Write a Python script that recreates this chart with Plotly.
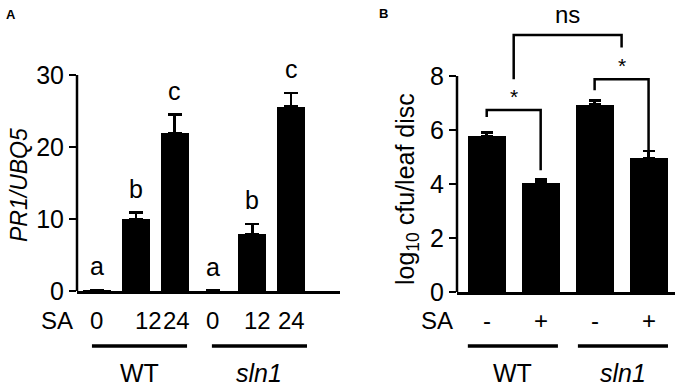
import plotly.graph_objects as go

FONT = "Liberation Sans, Arial, sans-serif"

# ---------------- data ----------------
# Panel A: PR1/UBQ5 expression
a_groups = ["WT", "<i>sln1</i>"]
a_sa_labels = ["0", "12", "24", "0", "12", "24"]
a_values = [0.1, 10.0, 21.9, 0.05, 7.9, 25.6]
a_errors = [0.05, 0.9, 2.6, 0.0, 1.4, 1.9]
a_letters = ["a", "b", "c", "a", "b", "c"]
a_yticks = [0, 10, 20, 30]

# Panel B: log10 cfu / leaf disc
b_groups = ["WT", "<i>sln1</i>"]
b_sa_labels = ["-", "+", "-", "+"]
b_values = [5.76, 4.05, 6.94, 4.95]
b_errors = [0.15, 0.11, 0.16, 0.27]
b_yticks = [0, 2, 4, 6, 8]

# ---------------- figure ----------------
W, H = 680, 387
LW = 2.5
TICKFONT = dict(family=FONT, size=24, color="black")
YTICKFONT = dict(family=FONT, size=25, color="black")

a_x = list(range(len(a_values)))
b_x = list(range(len(b_values)))

fig = go.Figure()
fig.add_trace(go.Bar(
    x=a_x, y=a_values, width=0.72, xaxis="x", yaxis="y",
    marker=dict(color="black", line=dict(width=0)),
    error_y=dict(type="data", array=a_errors, arrayminus=[0] * len(a_errors),
                 symmetric=False, color="black", thickness=LW, width=7),
    showlegend=False, hoverinfo="skip"))
fig.add_trace(go.Bar(
    x=b_x, y=b_values, width=0.705, xaxis="x2", yaxis="y2",
    marker=dict(color="black", line=dict(width=0)),
    error_y=dict(type="data", array=b_errors, arrayminus=[0] * len(b_errors),
                 symmetric=False, color="black", thickness=LW, width=6),
    showlegend=False, hoverinfo="skip"))

xcommon = dict(showline=True, linecolor="black", linewidth=LW, showticklabels=False,
               showgrid=False, zeroline=False, ticks="", fixedrange=True,
               automargin=False)
ycommon = dict(showline=False, showgrid=False, zeroline=False, ticks="outside",
               ticklen=7, tickwidth=LW, tickcolor="black", tickfont=YTICKFONT,
               fixedrange=True, automargin=False)

fig.update_layout(
    width=W, height=H, margin=dict(l=0, r=0, t=0, b=0, autoexpand=False),
    paper_bgcolor="white", plot_bgcolor="white",
    font=dict(family=FONT, color="black"),
    bargap=0,
    xaxis=dict(domain=[77 / W, 340 / W], range=[-0.515, 6.26], anchor="y", **xcommon),
    yaxis=dict(domain=[96 / H, 1], range=[0, 291 / 7.2], tickvals=a_yticks,
               anchor="x", **ycommon),
    xaxis2=dict(domain=[457 / W, 675 / W], range=[-0.551, 3.49], anchor="y2", **xcommon),
    yaxis2=dict(domain=[95 / H, 1], range=[0, 292 / 27.0], tickvals=b_yticks,
                anchor="x2", **ycommon),
)

shapes = []
ann = []

# y-axis lines (only up to top tick)
shapes.append(dict(type="line", xref="x domain", yref="y", x0=0, x1=0,
                   y0=0, y1=max(a_yticks), line=dict(color="black", width=LW)))
shapes.append(dict(type="line", xref="x2 domain", yref="y2", x0=0, x1=0,
                   y0=0, y1=max(b_yticks), line=dict(color="black", width=LW)))

# significance letters, panel A
for i, (v, e, l) in enumerate(zip(a_values, a_errors, a_letters)):
    ann.append(dict(x=i, y=v + e + 3.3, xref="x", yref="y", text=l,
                    showarrow=False, xanchor="center", yanchor="middle",
                    font=dict(family=FONT, size=25, color="black")))

# brackets, panel B
b_top = [v + e for v, e in zip(b_values, b_errors)]
wt_yl = b_top[0] + 0.57
wt_yt = wt_yl + 0.26
wt_yr = b_top[1] + 0.35
sl_yl = b_top[2] + 0.37
sl_yt = sl_yl + 0.41
sl_yr = b_top[3] + 0.0
ns_yl = wt_yt + 1.14
ns_yt = 9.52
ns_yr = sl_yt + 1.18


def bracket(x0, x1, yl, yt, yr):
    return dict(type="path", xref="x2", yref="y2",
                path=f"M {x0},{yl} L {x0},{yt} L {x1},{yt} L {x1},{yr}",
                line=dict(color="black", width=LW))


shapes.append(bracket(0, 1, wt_yl, wt_yt, wt_yr))
shapes.append(bracket(2, 3, sl_yl, sl_yt, sl_yr))
shapes.append(bracket(0.5, 2.5, ns_yl, ns_yt, ns_yr))

for xm, yt in [(0.5, wt_yt), (2.5, sl_yt)]:
    ann.append(dict(x=xm, y=yt, xref="x2", yref="y2", text="*", showarrow=False,
                    xanchor="center", yanchor="bottom",
                    font=dict(family=FONT, size=21, color="black")))
ann.append(dict(x=1.5, y=1, xref="x2", yref="y2 domain", text="ns", showarrow=False,
                xanchor="center", yanchor="top", borderpad=0,
                font=dict(family=FONT, size=24, color="black")))

# x category labels (SA doses)
TICK_Y = 1 - 320 / H
a_shift = [0, 13, 2, -1, 5, 0]
for i, (lab, s) in enumerate(zip(a_sa_labels, a_shift)):
    ann.append(dict(x=i, y=TICK_Y, xref="x", yref="paper", text=lab, xshift=s,
                    showarrow=False, xanchor="center", yanchor="middle", font=TICKFONT))
for i, lab in enumerate(b_sa_labels):
    ann.append(dict(x=i, y=TICK_Y, xref="x2", yref="paper", text=lab,
                    showarrow=False, xanchor="center", yanchor="middle", font=TICKFONT))
for xp in (57, 437):
    ann.append(dict(x=xp / W, y=TICK_Y, xref="paper", yref="paper", text="SA",
                    showarrow=False, xanchor="center", yanchor="middle", font=TICKFONT))

# group lines + labels
LINE_Y = 1 - 346 / H
LAB_Y = 1 - 373 / H
a_spans = [(-0.13, 2.32), (2.96, 5.41)]
b_spans = [(-0.35, 1.32), (1.69, 3.36)]
for (xr, spans, groups) in [("x", a_spans, a_groups), ("x2", b_spans, b_groups)]:
    for (x0, x1), g in zip(spans, groups):
        shapes.append(dict(type="line", xref=xr, yref="paper", x0=x0, x1=x1,
                           y0=LINE_Y, y1=LINE_Y, line=dict(color="black", width=3.5)))
        ann.append(dict(x=(x0 + x1) / 2, y=LAB_Y, xref=xr, yref="paper", text=g,
                        showarrow=False, xanchor="center", yanchor="middle",
                        font=dict(family=FONT, size=25, color="black")))

# axis titles
ann.append(dict(x=19 / W, y=1 - 185 / H, xref="paper", yref="paper",
                text="<i>PR1/UBQ5</i>", textangle=-90, showarrow=False,
                xanchor="center", yanchor="middle",
                font=dict(family=FONT, size=23, color="black")))
ann.append(dict(x=407 / W, y=1 - 189 / H, xref="paper", yref="paper",
                text="log<sub>10</sub> cfu/leaf disc", textangle=-90, showarrow=False,
                xanchor="center", yanchor="middle",
                font=dict(family=FONT, size=25, color="black")))

# panel letters
ann.append(dict(x=10.5 / W, y=1 - 14.5 / H, xref="paper", yref="paper", text="<b>A</b>",
                showarrow=False, xanchor="center", yanchor="middle",
                font=dict(family=FONT, size=13, color="black")))
ann.append(dict(x=383.5 / W, y=1 - 13.5 / H, xref="paper", yref="paper", text="<b>B</b>",
                showarrow=False, xanchor="center", yanchor="middle",
                font=dict(family=FONT, size=13, color="black")))

fig.update_layout(shapes=shapes, annotations=ann)
fig.write_html("out.html",
               config={"displayModeBar": False, "staticPlot": True},
               post_script="document.body.style.margin='0';"
                           "document.body.style.overflow='hidden';")
